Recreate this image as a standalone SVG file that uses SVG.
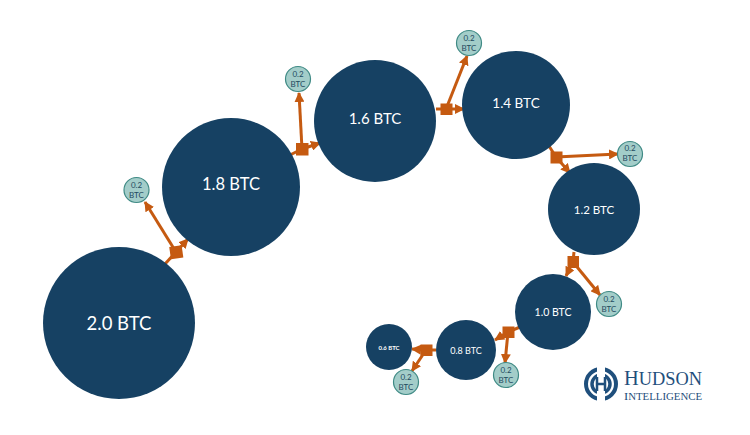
<svg xmlns="http://www.w3.org/2000/svg" width="750" height="435" viewBox="0 0 750 435">
<style>
.big{fill:#164163}
.small{fill:#a3cdc9;stroke:#3f8a85;stroke-width:1.2}
.lb{font-family:Lato,"Liberation Sans",sans-serif;fill:#fff;text-anchor:middle;dominant-baseline:central}
.sl{font-family:Lato,"Liberation Sans",sans-serif;fill:#1f4a5f;text-anchor:middle;font-size:8px}
.c{stroke:#c55a11;stroke-width:3;fill:none;marker-end:url(#a)}
.p{stroke:#c55a11;stroke-width:3;fill:none}
.sq{fill:#c55a11}
.logo{font-family:"Liberation Serif",serif;fill:#1f4f7c}
</style>
<defs><marker id="a" markerUnits="userSpaceOnUse" markerWidth="10" markerHeight="10" refX="9" refY="5" orient="auto"><path d="M0 0L10 5L0 10Z" fill="#c55a11"/></marker></defs>
<g id="connectors">
<path class="p" d="M165 264L176 252"/><path class="c" d="M176 252L188 239"/><path class="c" d="M176 252L145 202"/>
<path class="p" d="M290 155L302 149"/><path class="c" d="M302 149L320 143"/><path class="c" d="M302 149L299 93"/>
<path class="p" d="M436 109H446"/><path class="c" d="M446 109L464 109"/><path class="c" d="M446 109L467 56"/>
<path class="p" d="M549 146L556 157"/><path class="c" d="M556 157L570 173"/><path class="c" d="M556 157L618 154"/>
<path class="p" d="M574 252L573 262"/><path class="c" d="M573 262L566 276"/><path class="c" d="M573 262L600 295"/>
<path class="p" d="M520 327L508 332"/><path class="c" d="M508 332L495 340"/><path class="c" d="M508 332L505 363"/>
<path class="p" d="M436 350H426"/><path class="c" d="M426 350L412 349"/><path class="c" d="M426 350L412 371"/>
</g>
<g id="n20"><circle class="big" cx="119" cy="323" r="76"/><text class="lb" x="119" y="323" font-size="18.500">2.0 BTC</text></g>
<g id="n18"><circle class="big" cx="231" cy="187" r="69"/><text class="lb" x="231" y="184" font-size="16.500">1.8 BTC</text></g>
<g id="n16"><circle class="big" cx="375" cy="121" r="61"/><text class="lb" x="375" y="118" font-size="15">1.6 BTC</text></g>
<g id="n14"><circle class="big" cx="516" cy="105" r="54"/><text class="lb" x="516" y="103" font-size="13.500">1.4 BTC</text></g>
<g id="n12"><circle class="big" cx="594" cy="209" r="46"/><text class="lb" x="594" y="209" font-size="11.500">1.2 BTC</text></g>
<g id="n10"><circle class="big" cx="553" cy="312" r="38"/><text class="lb" x="553" y="312" font-size="10.500">1.0 BTC</text></g>
<g id="n08"><circle class="big" cx="466" cy="350" r="30"/><text class="lb" x="466" y="350" font-size="9">0.8 BTC</text></g>
<g id="n06"><circle class="big" cx="389" cy="347" r="23"/><text class="lb" x="389" y="347" font-size="6" font-weight="700">0.6 BTC</text></g>
<g id="s1"><circle class="small" cx="136.500" cy="190" r="12.500"/><text class="sl" x="136.500" y="188">0.2</text><text class="sl" x="136.500" y="198">BTC</text></g>
<g id="s2"><circle class="small" cx="298" cy="79" r="12.500"/><text class="sl" x="298" y="77">0.2</text><text class="sl" x="298" y="87">BTC</text></g>
<g id="s3"><circle class="small" cx="469" cy="43" r="12.500"/><text class="sl" x="469" y="41">0.2</text><text class="sl" x="469" y="51">BTC</text></g>
<g id="s4"><circle class="small" cx="630" cy="154" r="12.500"/><text class="sl" x="630" y="151">0.2</text><text class="sl" x="630" y="161">BTC</text></g>
<g id="s5"><circle class="small" cx="609" cy="304" r="12.500"/><text class="sl" x="609" y="302">0.2</text><text class="sl" x="609" y="312">BTC</text></g>
<g id="s6"><circle class="small" cx="506" cy="375" r="12.500"/><text class="sl" x="506" y="373">0.2</text><text class="sl" x="506" y="383">BTC</text></g>
<g id="s7"><circle class="small" cx="406" cy="382" r="12.500"/><text class="sl" x="406" y="380">0.2</text><text class="sl" x="406" y="390">BTC</text></g>
<g id="squares">
<rect class="sq" x="170" y="246" width="12.500" height="12.500" transform="rotate(-8 176 252)"/>
<rect class="sq" x="296" y="143" width="12.500" height="12.500"/>
<rect class="sq" x="440.500" y="103.500" width="12" height="11.500"/>
<rect class="sq" x="550.500" y="151.500" width="12" height="12"/>
<rect class="sq" x="567.500" y="256" width="11.500" height="12"/>
<rect class="sq" x="502.500" y="326.500" width="12" height="11.500"/>
<rect class="sq" x="420.500" y="344.500" width="12" height="11.500"/>
</g>
<g id="logo">
<circle cx="601" cy="384" r="15" fill="none" stroke="#1f4f7c" stroke-width="4"/>
<circle cx="601" cy="384" r="9" fill="none" stroke="#1f4f7c" stroke-width="3.500"/>
<rect x="597" y="366" width="8" height="36" fill="#fff"/>
<path d="M597 377V391M605 377V391M597 384H605" stroke="#1f4f7c" stroke-width="2.500" fill="none"/>
<text class="logo" x="624" y="385" font-size="18" textLength="78" lengthAdjust="spacingAndGlyphs"><tspan font-size="20">H</tspan>UDSON</text>
<text class="logo" x="624" y="399.500" font-size="9.500" textLength="78" lengthAdjust="spacingAndGlyphs"><tspan font-size="11">I</tspan>NTELLIGENCE</text>
</g>
</svg>
